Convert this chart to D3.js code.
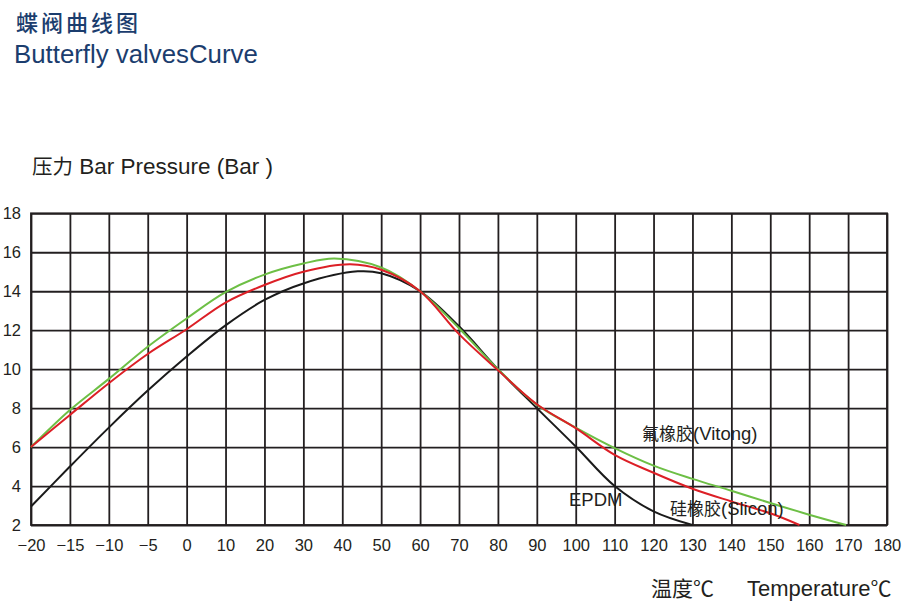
<!DOCTYPE html>
<html>
<head>
<meta charset="utf-8">
<script src="https://cdn.jsdelivr.net/npm/d3@7"></script>
<style>
  html, body { margin: 0; padding: 0; background: #fff; }
  svg { display: block; }
</style>
</head>
<body>
<svg id="chart" width="919" height="613"></svg>
<script>
// ---- data ----
const xTicks = [-20, -15, -10, -5, 0, 10, 20, 30, 40, 50, 60, 70, 80, 90, 100, 110, 120, 130, 140, 150, 160, 170, 180];
const yTicks = [2, 4, 6, 8, 10, 12, 14, 16, 18];

const vitongT = [-20, -15, -10, -5, 0, 10, 20, 30, 38, 50, 60, 70, 80, 90, 100, 110, 120, 130, 140, 150, 160, 169.5];
const vitongP = [6.0, 7.9, 9.5, 11.15, 12.6, 13.95, 14.85, 15.42, 15.68, 15.22, 14.0, 12.1, 10.0, 8.18, 7.0, 5.95, 5.05, 4.37, 3.76, 3.13, 2.53, 2.0];

const siliconT = [-20, -15, -10, -5, 0, 10, 20, 30, 42, 50, 60, 70, 80, 90, 100, 110, 120, 130, 140, 150, 157.5];
const siliconP = [6.0, 7.65, 9.28, 10.78, 12.05, 13.42, 14.32, 15.0, 15.38, 15.1, 14.0, 11.8, 9.95, 8.2, 6.97, 5.6, 4.68, 3.86, 3.21, 2.6, 2.0];

const epdmT = [-20, -15, -10, -5, 0, 10, 20, 30, 44, 50, 60, 70, 80, 90, 100, 110, 120, 130];
const epdmP = [2.95, 5.0, 7.0, 8.9, 10.65, 12.25, 13.55, 14.4, 15.02, 14.92, 14.0, 12.2, 10.0, 8.0, 6.03, 4.0, 2.7, 2.0];

const seriesNames = ["氟橡胶", "(Vitong)", "EPDM", "硅橡胶", "(Slicon)"];

// ---- layout ----
const svg = d3.select("#chart");
const pL = 31, pR = 887, pT = 213.3, pB = 525;
const x = d3.scaleLinear().domain([-20, 0, 180]).range([pL, pL + 4 * (pR - pL) / 22, pR]);
const y = d3.scaleLinear().domain([2, 18]).range([pB, pT]);

const latin = "'Liberation Sans', Arial, Helvetica, sans-serif";
const cjkF = "'Noto Sans CJK SC', sans-serif";
const ink = "#231f20";
const gridW = 1.8;

function mixed(parent, xPos, yPos, parts) {
  const t = parent.append("text").attr("x", xPos).attr("y", yPos).attr("fill", ink);
  parts.forEach(p => {
    t.append("tspan").attr("font-family", p.cjk ? cjkF : latin)
      .attr("font-size", p.size).text(p.s);
  });
  return t;
}

// titles
svg.append("text").attr("x", 16).attr("y", 31)
  .attr("font-family", cjkF).attr("font-size", 22).attr("font-weight", 500)
  .attr("letter-spacing", 3).attr("fill", "#1b3d6e").text("蝶阀曲线图");
svg.append("text").attr("x", 14).attr("y", 63)
  .attr("font-family", latin).attr("font-size", 25.8)
  .attr("fill", "#1b3d6e").text("Butterfly valvesCurve");

// y-axis title
mixed(svg, 32, 174, [
  { s: "压力", cjk: true, size: 20.5 },
  { s: " Bar Pressure (Bar )", cjk: false, size: 22.5 }
]);

// x-axis title
mixed(svg, 651, 596, [
  { s: "温度", cjk: true, size: 21 },
  { s: "℃", cjk: true, size: 21 }
]);
mixed(svg, 747, 596, [
  { s: "Temperature", cjk: false, size: 22 },
  { s: "℃", cjk: true, size: 21 }
]);

// x axis with vertical grid
const fmt = d => d < 0 ? "\u2212" + Math.abs(d) : String(d);
const gx = svg.append("g").attr("transform", `translate(0,${pB})`)
  .call(d3.axisBottom(x).tickValues(xTicks).tickFormat(fmt)
    .tickSize(-(pB - pT)).tickPadding(14));
gx.select(".domain").remove();
gx.selectAll("line").attr("stroke", ink).attr("stroke-width", gridW);
gx.selectAll("text").attr("font-family", latin).attr("font-size", 16.5).attr("fill", ink);

// y axis with horizontal grid
const gy = svg.append("g").attr("transform", `translate(${pL},0)`)
  .call(d3.axisLeft(y).tickValues(yTicks).tickFormat(d3.format("d"))
    .tickSize(-(pR - pL)).tickPadding(10));
gy.select(".domain").remove();
gy.selectAll("line").attr("stroke", ink).attr("stroke-width", gridW);
gy.selectAll("text").attr("font-family", latin).attr("font-size", 16.5).attr("fill", ink);

// frame
svg.append("rect").attr("x", pL).attr("y", pT)
  .attr("width", pR - pL).attr("height", pB - pT)
  .attr("fill", "none").attr("stroke", ink).attr("stroke-width", gridW);

// curves
const line = d3.line().x(d => x(d[0])).y(d => y(d[1])).curve(d3.curveCatmullRom.alpha(0.5));
const series = [
  { t: epdmT, p: epdmP, color: "#1a1a1a" },
  { t: vitongT, p: vitongP, color: "#6dbf45" },
  { t: siliconT, p: siliconP, color: "#dc1f26" }
];
series.forEach(s => {
  svg.append("path").datum(s.t.map((t, i) => [t, s.p[i]]))
    .attr("d", line).attr("fill", "none")
    .attr("stroke", s.color).attr("stroke-width", 2);
});

// series labels
mixed(svg, 642, 440, [
  { s: seriesNames[0], cjk: true, size: 17 },
  { s: seriesNames[1], cjk: false, size: 18.5 }
]);
mixed(svg, 569, 506, [
  { s: seriesNames[2], cjk: false, size: 18.5 }
]);
mixed(svg, 670, 515, [
  { s: seriesNames[3], cjk: true, size: 17 },
  { s: seriesNames[4], cjk: false, size: 18.5 }
]);
</script>
</body>
</html>
